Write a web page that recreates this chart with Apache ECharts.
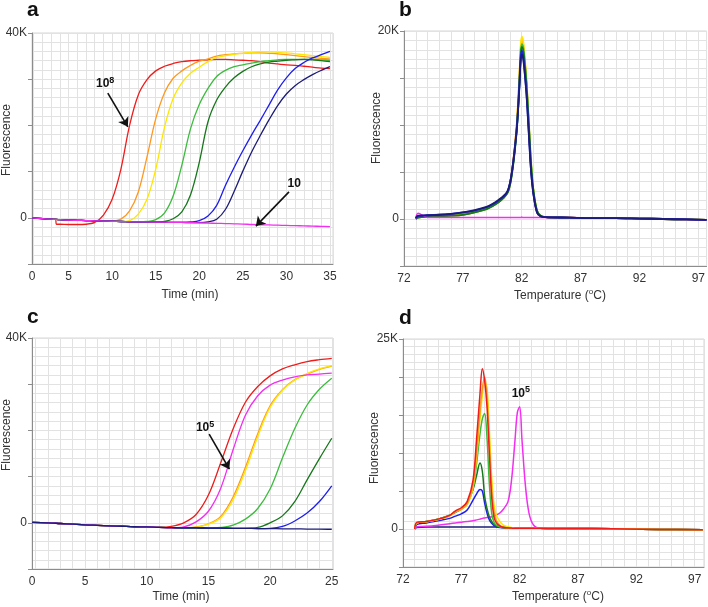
<!DOCTYPE html>
<html>
<head>
<meta charset="utf-8">
<script src="https://cdn.jsdelivr.net/npm/echarts@6/dist/echarts.min.js"></script>
<style>
  html, body { margin: 0; padding: 0; background: #fff; }
  #main { width: 708px; height: 607px; }
</style>
</head>
<body>
<div id="main"></div>
<script>
// ---- panel a: amplification, time (min) vs fluorescence (K) ----
var timeA = [0.8, 2, 3, 3.5, 3.6, 4, 5, 6, 7, 8, 9, 10, 11, 12, 13, 14, 15, 16, 17, 18, 19, 20, 21, 22, 23, 24, 25, 26, 27, 28, 29, 30, 31, 32, 33, 34, 35];
var redA = [0, -0.15, -0.25, -0.3, -1.4, -1.4, -1.45, -1.45, -1.4, -1.0, 0.6, 4.0, 10.5, 20.0, 26.6, 29.9, 31.8, 32.8, 33.4, 33.8, 34.0, 34.1, 34.2, 34.3, 34.3, 34.2, 34.1, 34.0, 33.8, 33.5, 33.3, 33.1, 33.0, 32.8, 32.6, 32.4, 32.3];
var orangeA = [0, -0.2, -0.3, -0.35, -0.36, -0.4, -0.5, -0.55, -0.6, -0.65, -0.7, -0.7, -0.3, 1.5, 5.6, 13.2, 21.4, 27.0, 30.2, 31.8, 33.0, 33.9, 34.4, 35.0, 35.3, 35.5, 35.6, 35.7, 35.7, 35.6, 35.5, 35.3, 35.1, 34.9, 34.7, 34.5, 34.4];
var yellowA = [0, -0.2, -0.3, -0.35, -0.36, -0.4, -0.5, -0.55, -0.6, -0.65, -0.7, -0.75, -0.8, -0.6, 0.8, 4.0, 10.5, 19.5, 25.8, 29.2, 31.3, 32.6, 33.8, 34.7, 35.1, 35.4, 35.6, 35.8, 35.9, 35.9, 35.8, 35.7, 35.5, 35.3, 35.1, 34.9, 34.7];
var limeA = [0, -0.2, -0.3, -0.35, -0.36, -0.4, -0.5, -0.55, -0.6, -0.65, -0.7, -0.75, -0.8, -0.85, -0.9, -0.8, -0.4, 1.0, 4.7, 11.4, 19.3, 24.5, 28.0, 30.6, 31.9, 32.7, 33.1, 33.5, 33.8, 34.0, 34.2, 34.3, 34.3, 34.3, 34.3, 34.2, 34.1];
var greenA = [0, -0.2, -0.3, -0.35, -0.36, -0.4, -0.5, -0.55, -0.6, -0.65, -0.7, -0.75, -0.8, -0.85, -0.9, -0.9, -0.95, -0.8, -0.2, 1.3, 5.0, 12.0, 20.8, 25.5, 28.3, 30.3, 31.7, 32.7, 33.3, 33.7, 33.9, 34.1, 34.2, 34.3, 34.2, 34.0, 33.8];
var blueA = [0, -0.2, -0.3, -0.35, -0.36, -0.4, -0.5, -0.55, -0.6, -0.65, -0.7, -0.75, -0.8, -0.85, -0.9, -0.9, -0.95, -0.95, -1.0, -1.0, -0.9, -0.6, 0.4, 2.7, 7.0, 10.9, 14.5, 17.9, 21.1, 24.4, 27.7, 30.3, 32.3, 33.6, 34.6, 35.3, 36.0];
var navyA = [0, -0.2, -0.3, -0.35, -0.36, -0.4, -0.5, -0.55, -0.6, -0.65, -0.7, -0.75, -0.8, -0.85, -0.9, -0.9, -0.95, -0.95, -1.0, -1.0, -1.05, -1.05, -0.9, -0.3, 1.8, 5.7, 10.1, 14.2, 17.8, 21.2, 24.3, 26.8, 28.6, 29.9, 31.0, 31.9, 32.7];
var magentaA = [0, -0.2, -0.3, -0.35, -0.36, -0.4, -0.5, -0.55, -0.6, -0.65, -0.7, -0.75, -0.8, -0.85, -0.9, -0.9, -0.95, -0.95, -1.0, -1.0, -1.05, -1.1, -1.15, -1.2, -1.25, -1.3, -1.35, -1.45, -1.5, -1.55, -1.6, -1.65, -1.7, -1.75, -1.8, -1.85, -1.9];

// ---- panel b: melt curves, temperature (C) vs fluorescence (K) ----
var tempB = [73.0, 73.2, 74, 75, 76, 77, 78, 79, 79.5, 80, 80.5, 80.8, 81.0, 81.2, 81.4, 81.6, 81.8, 81.9, 82.0, 82.1, 82.2, 82.4, 82.6, 82.8, 83.0, 83.3, 83.6, 84, 86, 88, 90, 92, 94, 96, 97.7];
var redB = [0.0, 0.2, 0.3, 0.35, 0.4, 0.5, 0.75, 1.1, 1.4, 1.8, 2.35, 2.85, 3.7, 5.3, 7.5, 10.3, 14.8, 17.6, 18.8, 18.5, 17.4, 14.2, 9.8, 5.4, 2.8, 0.7, 0.3, 0.2, 0.15, 0.1, 0.1, 0.05, 0.0, -0.05, -0.1];
var orangeB = [0.0, 0.2, 0.3, 0.35, 0.4, 0.5, 0.75, 1.1, 1.4, 1.8, 2.35, 2.85, 3.7, 5.3, 7.5, 10.4, 15.0, 17.9, 19.1, 18.8, 17.7, 14.5, 10.0, 5.6, 2.9, 0.8, 0.3, 0.2, 0.15, 0.1, 0.1, 0.05, 0.0, -0.05, -0.1];
var yellowB = [0.0, 0.15, 0.25, 0.3, 0.35, 0.45, 0.7, 1.05, 1.35, 1.75, 2.3, 2.8, 3.6, 5.2, 7.4, 10.4, 15.1, 18.1, 19.4, 19.1, 18.0, 14.9, 10.4, 5.9, 3.0, 0.9, 0.35, 0.2, 0.15, 0.1, 0.1, 0.05, 0.0, -0.05, -0.1];
var limeB = [0.0, 0.15, 0.25, 0.3, 0.35, 0.45, 0.7, 1.05, 1.35, 1.75, 2.3, 2.8, 3.6, 5.1, 7.2, 10.0, 14.5, 17.4, 18.6, 18.4, 17.5, 14.6, 10.3, 5.9, 3.0, 0.9, 0.35, 0.2, 0.15, 0.1, 0.1, 0.05, 0.0, -0.05, -0.1];
var greenB = [0.0, 0.15, 0.25, 0.3, 0.35, 0.45, 0.7, 1.05, 1.35, 1.75, 2.3, 2.8, 3.6, 5.1, 7.1, 9.8, 14.3, 17.1, 18.3, 18.1, 17.2, 14.3, 10.0, 5.6, 2.9, 0.85, 0.35, 0.2, 0.15, 0.1, 0.1, 0.05, 0.0, -0.05, -0.1];
var blueB = [0.1, 0.3, 0.4, 0.45, 0.55, 0.7, 0.9, 1.25, 1.55, 1.95, 2.45, 2.95, 3.8, 5.3, 7.4, 10.0, 14.2, 16.9, 17.9, 17.5, 16.4, 13.4, 9.2, 5.0, 2.6, 0.7, 0.3, 0.2, 0.15, 0.1, 0.1, 0.05, 0.0, -0.05, -0.1];
var navyB = [0.1, 0.35, 0.4, 0.45, 0.55, 0.7, 0.95, 1.3, 1.6, 2.0, 2.5, 3.0, 3.8, 5.3, 7.3, 9.9, 14.0, 16.6, 17.5, 17.2, 16.2, 13.3, 9.1, 5.0, 2.6, 0.7, 0.3, 0.2, 0.15, 0.1, 0.1, 0.05, 0.0, -0.05, -0.1];
var magentaB = [0.0, 0.6, 0.15, 0.15, 0.15, 0.15, 0.15, 0.15, 0.15, 0.15, 0.15, 0.15, 0.15, 0.15, 0.15, 0.15, 0.15, 0.15, 0.2, 0.15, 0.15, 0.15, 0.15, 0.15, 0.15, 0.15, 0.15, 0.15, 0.15, 0.1, 0.1, 0.05, 0.0, -0.05, -0.1];

// ---- panel c: amplification, time (min) vs fluorescence (K) ----
var timeC = [0.7, 2, 3, 4, 5, 6, 7, 8, 9, 10, 11, 12, 13, 14, 15, 16, 17, 18, 19, 20, 21, 22, 23, 24, 25];
var redC = [0.1, 0.0, -0.15, -0.3, -0.45, -0.55, -0.65, -0.75, -0.85, -0.9, -0.95, -0.75, 0.0, 1.8, 6.0, 13.0, 20.3, 26.1, 29.5, 31.8, 33.3, 34.2, 34.9, 35.3, 35.6];
var orangeC = [0.1, 0.0, -0.15, -0.3, -0.45, -0.55, -0.65, -0.75, -0.85, -0.9, -1.0, -1.05, -1.1, -0.9, -0.2, 1.4, 5.6, 12.0, 19.3, 25.3, 28.8, 31.0, 32.2, 33.2, 33.9];
var yellowC = [0.1, 0.0, -0.15, -0.3, -0.45, -0.55, -0.65, -0.75, -0.85, -0.9, -1.0, -1.05, -1.1, -1.0, -0.3, 1.1, 5.0, 11.3, 18.7, 25.0, 28.7, 30.9, 32.3, 33.3, 34.0];
var limeC = [0.1, 0.0, -0.15, -0.3, -0.45, -0.55, -0.65, -0.75, -0.85, -0.9, -1.0, -1.05, -1.1, -1.1, -1.15, -1.0, -0.5, 0.8, 3.1, 7.3, 14.0, 20.4, 25.5, 28.9, 31.3];
var greenC = [0.1, 0.0, -0.15, -0.3, -0.45, -0.55, -0.65, -0.75, -0.85, -0.9, -1.0, -1.05, -1.1, -1.1, -1.15, -1.15, -1.2, -1.2, -1.0, 0.0, 1.5, 4.6, 9.3, 13.9, 18.3];
var blueC = [0.1, 0.0, -0.15, -0.3, -0.45, -0.55, -0.65, -0.75, -0.85, -0.9, -1.0, -1.05, -1.1, -1.1, -1.15, -1.15, -1.2, -1.2, -1.25, -1.2, -0.8, 0.4, 2.1, 4.6, 8.0];
var magentaC = [0.1, 0.0, -0.15, -0.3, -0.45, -0.55, -0.65, -0.75, -0.85, -0.9, -1.0, -1.1, -0.9, 0.2, 2.5, 7.5, 15.8, 23.3, 27.5, 29.8, 30.9, 31.6, 32.0, 32.2, 32.4];
var navyC = [0.1, 0.0, -0.15, -0.3, -0.45, -0.55, -0.65, -0.75, -0.85, -0.9, -1.0, -1.05, -1.1, -1.1, -1.15, -1.15, -1.2, -1.2, -1.25, -1.25, -1.3, -1.3, -1.35, -1.35, -1.4];

// ---- panel d: melt curves, temperature (C) vs fluorescence (K) ----
var tempD = [73.0, 73.2, 74, 75, 76, 76.5, 77, 77.5, 78, 78.3, 78.6, 78.8, 79.0, 79.2, 79.4, 79.6, 79.8, 80.0, 80.3, 80.6, 81.0, 81.3, 81.6, 81.8, 82.0, 82.2, 82.5, 82.8, 83.2, 83.8, 85, 88, 91, 94, 97.7];
var redD = [0.0, 0.9, 1.0, 1.3, 1.8, 2.4, 2.8, 3.6, 6.4, 11.7, 17.8, 21.1, 19.5, 16.1, 10.0, 4.2, 1.6, 0.8, 0.4, 0.2, 0.15, 0.12, 0.1, 0.1, 0.1, 0.1, 0.1, 0.1, 0.1, 0.1, 0.05, 0.05, 0.0, -0.05, -0.1];
var orangeD = [0.0, 0.8, 0.95, 1.25, 1.75, 2.3, 2.6, 3.3, 5.8, 10.0, 15.5, 18.5, 20.0, 17.5, 11.5, 5.5, 2.3, 1.1, 0.5, 0.25, 0.15, 0.12, 0.1, 0.1, 0.1, 0.1, 0.1, 0.1, 0.1, 0.1, 0.05, 0.05, 0.0, -0.05, -0.1];
var yellowD = [0.0, 0.8, 0.95, 1.25, 1.75, 2.3, 2.6, 3.2, 5.5, 9.5, 14.5, 17.5, 19.2, 18.6, 13.0, 6.8, 3.2, 1.8, 1.0, 0.5, 0.3, 0.2, 0.1, 0.1, 0.1, 0.1, 0.1, 0.1, 0.1, 0.1, 0.05, 0.05, 0.0, -0.05, -0.1];
var limeD = [0.0, 0.8, 1.0, 1.3, 1.8, 2.3, 2.6, 3.3, 5.3, 8.5, 12.5, 14.5, 15.2, 12.0, 6.0, 2.1, 0.9, 0.5, 0.3, 0.2, 0.15, 0.12, 0.1, 0.1, 0.1, 0.1, 0.1, 0.1, 0.1, 0.1, 0.05, 0.05, 0.0, -0.05, -0.1];
var greenD = [0.0, 0.8, 1.0, 1.3, 1.8, 2.2, 2.6, 3.5, 5.2, 7.0, 8.7, 7.6, 4.3, 2.7, 1.6, 1.0, 0.6, 0.4, 0.25, 0.2, 0.15, 0.12, 0.1, 0.1, 0.1, 0.1, 0.1, 0.1, 0.1, 0.1, 0.05, 0.05, 0.0, -0.05, -0.1];
var blueD = [0.0, 0.6, 0.8, 1.1, 1.4, 1.7, 2.0, 2.5, 3.8, 4.6, 5.2, 5.0, 3.4, 2.1, 1.2, 0.75, 0.45, 0.3, 0.2, 0.15, 0.15, 0.12, 0.1, 0.1, 0.1, 0.1, 0.1, 0.1, 0.1, 0.1, 0.05, 0.05, 0.0, -0.05, -0.1];
var magentaD = [0.0, 0.3, 0.35, 0.5, 0.7, 0.8, 0.9, 1.0, 1.1, 1.2, 1.3, 1.4, 1.45, 1.5, 1.55, 1.6, 1.7, 1.85, 2.1, 2.6, 3.6, 6.4, 11.7, 15.3, 16.1, 11.7, 5.6, 2.1, 0.5, 0.1, 0.05, 0.05, 0.0, -0.05, -0.1];
var navyD = [0.0, 0.2, 0.25, 0.25, 0.25, 0.25, 0.25, 0.25, 0.25, 0.25, 0.25, 0.25, 0.25, 0.25, 0.25, 0.25, 0.25, 0.25, 0.25, 0.25, 0.2, 0.15, 0.15, 0.15, 0.15, 0.1, 0.1, 0.1, 0.1, 0.1, 0.05, 0.05, 0.0, -0.05, -0.1];

var C = {
  red: '#ef1c1c', orange: '#ff981e', yellow: '#ffe600', lime: '#3cbc3c',
  green: '#16781a', blue: '#1e1ef0', navy: '#1c1c78', magenta: '#f22ef0'
};
var FONT = "'Liberation Sans', Arial, sans-serif";
var AXIS = '#8c8c8c', GRIDC = '#e2e2e2', TXT = '#333';

function line(color, xs, ys, g, width, extra) {
  var s = {
    type: 'line', xAxisIndex: g, yAxisIndex: g,
    data: xs.map(function (x, i) { return [x, ys[i]]; }),
    symbol: 'none', showSymbol: false, smooth: 0.35,
    lineStyle: { color: color, width: width }, itemStyle: { color: color },
    emphasis: { disabled: true }, silent: true
  };
  return Object.assign(s, extra || {});
}

function xTime(g, min, max) {
  return {
    type: 'value', gridIndex: g, min: min, max: max, minInterval: 5, maxInterval: 5,
    axisLine: { show: true, onZero: false, lineStyle: { color: AXIS } },
    axisTick: { show: false },
    axisLabel: { color: TXT, fontSize: 12, fontFamily: FONT, margin: 7, showMaxLabel: false,
      formatter: function (v) { return v < 1 ? '0' : String(v); } },
    splitLine: { show: true, lineStyle: { color: GRIDC } },
    minorTick: { show: false, splitNumber: 5 },
    minorSplitLine: { show: true, lineStyle: { color: GRIDC } }
  };
}
function xTemp(g, max) {
  return {
    type: 'value', gridIndex: g, min: 72, max: max, interval: 5,
    axisLine: { show: true, onZero: false, lineStyle: { color: AXIS } },
    axisTick: { show: false },
    axisLabel: { color: TXT, fontSize: 12, fontFamily: FONT, margin: 7, showMaxLabel: false },
    splitLine: { show: true, lineStyle: { color: GRIDC } },
    minorTick: { show: false, splitNumber: 5 },
    minorSplitLine: { show: true, lineStyle: { color: GRIDC } }
  };
}
function yFluo(g, min, max, step) {
  return {
    type: 'value', gridIndex: g, min: min, max: max, interval: step,
    axisLine: { show: true, lineStyle: { color: AXIS } },
    axisTick: { show: true, length: 4, lineStyle: { color: AXIS } },
    axisLabel: { color: TXT, fontSize: 12, fontFamily: FONT, margin: 5,
      formatter: function (v) { return v === max ? max + 'K' : (v === 0 ? '0' : ''); } },
    splitLine: { show: true, lineStyle: { color: GRIDC } },
    minorTick: { show: false, splitNumber: 5 },
    minorSplitLine: { show: true, lineStyle: { color: GRIDC } }
  };
}

var arrowStyle = { color: '#111', width: 1.6, type: 'solid' };
function arrow(from, to) {
  return { silent: true, symbol: ['none', 'arrow'], symbolSize: 9, lineStyle: arrowStyle,
    label: { show: false }, emphasis: { disabled: true }, data: [[{ coord: from }, { coord: to }]] };
}
function note(at, base, sup) {
  return { silent: true, symbol: 'rect', symbolSize: 1, itemStyle: { color: 'rgba(0,0,0,0)' },
    data: [{ coord: at }],
    label: { show: true, position: 'inside', color: '#111',
      formatter: '{b|' + base + '}' + (sup ? '{s|' + sup + '}' : ''),
      rich: { b: { fontFamily: FONT, fontWeight: 'bold', fontSize: 12, color: '#111', verticalAlign: 'bottom' },
              s: { fontFamily: FONT, fontWeight: 'bold', fontSize: 9, color: '#111', verticalAlign: 'top', padding: [0, 0, 5, 0] } } } };
}

function title(t, x, y) {
  return { type: 'text', x: x, y: y, silent: true,
    style: { text: t, font: 'bold 21px ' + FONT, fill: '#111', align: 'left', verticalAlign: 'middle', textAlign: 'left', textVerticalAlign: 'middle' } };
}
function yName(x, y) {
  return { type: 'text', x: x, y: y, rotation: Math.PI / 2, silent: true,
    style: { text: 'Fluorescence', font: '12px ' + FONT, fill: TXT, align: 'center', verticalAlign: 'middle', textAlign: 'center', textVerticalAlign: 'middle' } };
}
function xName(x, y, temp) {
  var el = { type: 'text', x: x, y: y, silent: true,
    style: { font: '12px ' + FONT, fill: TXT, align: 'center', verticalAlign: 'middle', textAlign: 'center', textVerticalAlign: 'middle' } };
  if (temp) {
    el.style.text = '{t|Temperature (}{s|o}{t|C)}';
    el.style.rich = { t: { fontSize: 12, fontFamily: FONT, fill: TXT, verticalAlign: 'bottom' },
                      s: { fontSize: 8, fontFamily: FONT, fill: TXT, verticalAlign: 'top', padding: [0, 0, 6, 0] } };
  } else {
    el.style.text = 'Time (min)';
  }
  return el;
}

var gridStyle = { show: true, borderColor: '#d6d6d6', borderWidth: 1, backgroundColor: 'transparent' };

var option = {
  animation: false,
  textStyle: { fontFamily: FONT },
  grid: [
    Object.assign({ left: 32, top: 33, width: 301, height: 231 }, gridStyle),
    Object.assign({ left: 404, top: 31, width: 303, height: 235 }, gridStyle),
    Object.assign({ left: 32, top: 338, width: 301, height: 231 }, gridStyle),
    Object.assign({ left: 403, top: 339, width: 301, height: 228 }, gridStyle)
  ],
  xAxis: [xTime(0, 0.8, 35.35), xTemp(1, 97.7), xTime(2, 0.7, 25.1), xTemp(3, 97.8)],
  yAxis: [yFluo(0, -10, 40, 10), yFluo(1, -5, 20, 5), yFluo(2, -10, 40, 10), yFluo(3, -5, 25, 5)],
  series: [
    // a
    line(C.red, timeA, redA, 0, 1.3, { markLine: arrow([9.5, 27.0], [11.8, 19.7]), markPoint: note([9.2, 29.2], '10', '8') }),
    line(C.orange, timeA, orangeA, 0, 1.3),
    line(C.yellow, timeA, yellowA, 0, 1.3),
    line(C.lime, timeA, limeA, 0, 1.3),
    line(C.green, timeA, greenA, 0, 1.3),
    line(C.blue, timeA, blueA, 0, 1.3),
    line(C.navy, timeA, navyA, 0, 1.3),
    line(C.magenta, timeA, magentaA, 0, 1.3, { markLine: arrow([30.3, 5.6], [26.5, -1.8]), markPoint: note([30.9, 7.3], '10') }),
    // b
    line(C.red, tempB, redB, 1, 1.8),
    line(C.orange, tempB, orangeB, 1, 1.8),
    line(C.yellow, tempB, yellowB, 1, 1.8),
    line(C.lime, tempB, limeB, 1, 1.8),
    line(C.green, tempB, greenB, 1, 1.8),
    line(C.magenta, tempB, magentaB, 1, 1.5),
    line(C.blue, tempB, blueB, 1, 1.8),
    line(C.navy, tempB, navyB, 1, 1.8),
    // c
    line(C.red, timeC, redC, 2, 1.3),
    line(C.orange, timeC, orangeC, 2, 1.3),
    line(C.yellow, timeC, yellowC, 2, 1.3),
    line(C.lime, timeC, limeC, 2, 1.3),
    line(C.green, timeC, greenC, 2, 1.3),
    line(C.blue, timeC, blueC, 2, 1.3),
    line(C.magenta, timeC, magentaC, 2, 1.3, { markLine: arrow([15.06, 19.2], [16.7, 11.6]), markPoint: note([14.73, 20.7], '10', '5') }),
    line(C.navy, timeC, navyC, 2, 1.3),
    // d
    line(C.navy, tempD, navyD, 3, 1.5),
    line(C.magenta, tempD, magentaD, 3, 1.5, { markPoint: note([82.1, 18.0], '10', '5') }),
    line(C.blue, tempD, blueD, 3, 1.5),
    line(C.green, tempD, greenD, 3, 1.5),
    line(C.lime, tempD, limeD, 3, 1.5),
    line(C.yellow, tempD, yellowD, 3, 1.5),
    line(C.orange, tempD, orangeD, 3, 1.5),
    line(C.red, tempD, redD, 3, 1.5)
  ],
  graphic: [
    title('a', 27, 10), title('b', 399, 10), title('c', 27, 317), title('d', 399, 318),
    yName(7, 140), yName(377, 128), yName(7, 435), yName(375, 448),
    xName(190, 295, false), xName(560, 295, true), xName(181, 597, false), xName(558, 596, true)
  ]
};

var chart = echarts.init(document.getElementById('main'), null, { renderer: 'canvas' });
chart.setOption(option);
</script>
</body>
</html>
